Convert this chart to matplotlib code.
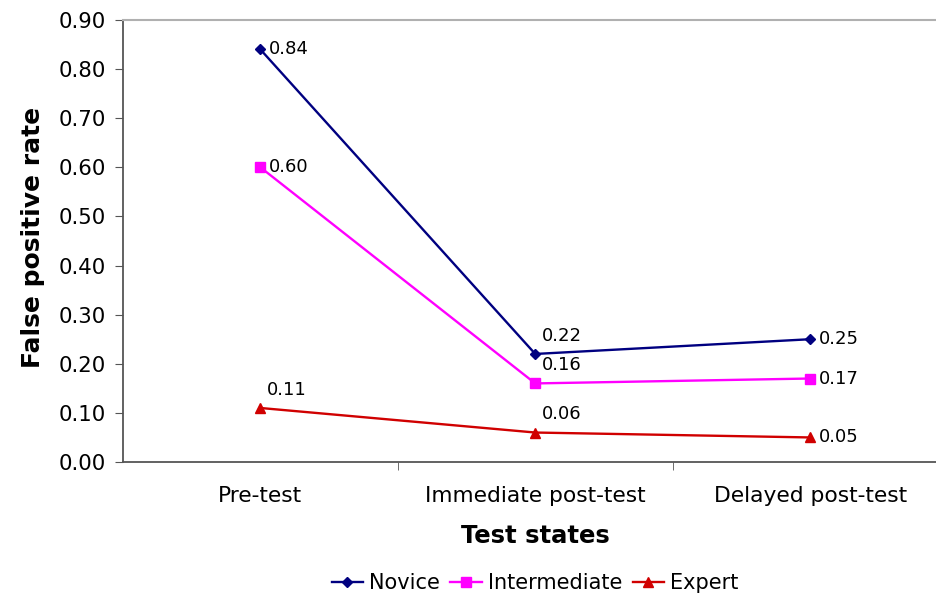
import matplotlib.pyplot as plt
import numpy as np

plt.rcParams['font.family'] = ['DejaVu Sans']

states = ['Pre-test', 'Immediate post-test', 'Delayed post-test']
novice = [0.84, 0.22, 0.25]
intermediate = [0.60, 0.16, 0.17]
expert = [0.11, 0.06, 0.05]

# label placement per point: 'r' = right of marker, 'ur' = above right
novice_pos = ['r', 'ur', 'r']
intermediate_pos = ['r', 'ur', 'r']
expert_pos = ['ur', 'ur', 'r']

W, H = 937, 597
fig = plt.figure(figsize=(W / 100, H / 100), dpi=100)
ax = fig.add_axes([123 / W, 1 - 462 / H, (W - 123) / W, (462 - 20) / H])

x = np.arange(len(states))
series = [
    ('Novice', novice, novice_pos, '#000080', 'D', 5),
    ('Intermediate', intermediate, intermediate_pos, '#ff00ff', 's', 7),
    ('Expert', expert, expert_pos, '#d00000', '^', 7),
]
for name, vals, pos, col, mk, ms in series:
    ax.plot(x, vals, color=col, lw=1.7, marker=mk, ms=ms, label=name)
    for xi, v, p in zip(x, vals, pos):
        if p == 'r':
            ax.annotate(f'{v:.2f}', (xi, v), xytext=(6, 0), textcoords='offset points',
                        ha='left', va='center', fontsize=13)
        else:
            ax.annotate(f'{v:.2f}', (xi, v), xytext=(5, 13), textcoords='offset points',
                        ha='left', va='center', fontsize=13)

ax.set_xlim(-0.5, (W - 260) / 275)
ax.set_ylim(0, 0.9)
ax.set_yticks(np.arange(0, 0.91, 0.1))
ax.set_yticklabels([f'{t:.2f}' for t in np.arange(0, 0.91, 0.1)])
ax.set_xticks(x)
ax.set_xticklabels(states)
ax.set_xticks([0.5, 1.5], minor=True)
ax.tick_params(axis='x', which='major', length=0, pad=17, labelsize=15.7)
ax.tick_params(axis='x', which='minor', length=6, direction='out', color='#555555')
ax.tick_params(axis='y', length=6, direction='out', color='#555555', labelsize=15.3, pad=6)

for s in ['left', 'bottom']:
    ax.spines[s].set_color('#555555')
    ax.spines[s].set_linewidth(1.3)
ax.spines['top'].set_color('#b0b0b0')
ax.spines['top'].set_linewidth(1.5)
ax.spines['right'].set_visible(False)

fig.text(33 / W, 1 - 237 / H, 'False positive rate', rotation=90, ha='center', va='center',
         fontsize=18, fontweight='bold')
fig.text(535 / W, 1 - 536 / H, 'Test states', ha='center', va='center',
         fontsize=17.5, fontweight='bold')

fig.legend(loc='center', bbox_to_anchor=(535 / W, 1 - 583 / H), ncol=3, frameon=False,
           fontsize=15, handlelength=1.5, handletextpad=0.3, columnspacing=0.5, borderpad=0)

fig.savefig('out.png', dpi=100)
